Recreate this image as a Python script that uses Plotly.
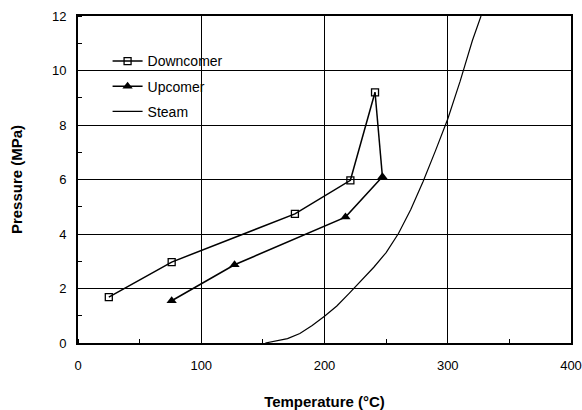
import plotly.graph_objects as go

# Data
down_T = [25, 76, 176, 221, 241]
down_P = [1.68, 2.97, 4.74, 5.97, 9.2]

up_T = [76, 127, 217, 247]
up_P = [1.55, 2.87, 4.62, 6.1]

steam_T = [152, 160, 170, 180, 190, 200, 210, 220, 230, 240, 250, 260, 270, 280, 290, 300, 310, 320, 327]
steam_P = [0.0, 0.06, 0.16, 0.35, 0.64, 0.98, 1.36, 1.82, 2.3, 2.78, 3.32, 4.02, 4.9, 5.93, 7.05, 8.22, 9.6, 11.1, 12.0]

x_ticks = [0, 100, 200, 300, 400]
y_ticks = [0, 2, 4, 6, 8, 10, 12]

FONT = "Arial, Liberation Sans, sans-serif"

fig = go.Figure()
fig.add_trace(go.Scatter(
    x=down_T, y=down_P, mode="lines+markers", name="Downcomer", legendgroup="a",
    line=dict(color="black", width=1.5),
    marker=dict(symbol="square-open", size=7, color="black", line=dict(width=1.3)),
))
fig.add_trace(go.Scatter(
    x=up_T, y=up_P, mode="lines+markers", name="Upcomer", legendgroup="b",
    line=dict(color="black", width=1.5),
    marker=dict(symbol="triangle-up", size=9, color="black"),
))
fig.add_trace(go.Scatter(
    x=[down_T[-1], up_T[-1]], y=[down_P[-1], up_P[-1]], mode="lines", showlegend=False,
    line=dict(color="black", width=1.5), hoverinfo="skip",
))
fig.add_trace(go.Scatter(
    x=steam_T, y=steam_P, mode="lines", name="Steam", legendgroup="c",
    line=dict(color="black", width=1.2),
))

axis_common = dict(
    showline=True, linecolor="black", linewidth=2, mirror=True,
    showgrid=True, gridcolor="black", gridwidth=1,
    ticks="", zeroline=False, automargin=False,
    tickfont=dict(family=FONT, size=13, color="black"),
)

fig.update_xaxes(
    range=[0, 400], tickvals=x_ticks, ticktext=[str(v) for v in x_ticks],
    title=dict(text="<b>Temperature (°C)</b>", font=dict(family=FONT, size=15, color="black"), standoff=26),
    minor=dict(ticks="inside", ticklen=4, tickcolor="black", dtick=50, tick0=0, showgrid=False),
    ticklabelstandoff=9,
    **axis_common,
)
fig.update_yaxes(
    range=[0, 12], tickvals=y_ticks, ticktext=[str(v) for v in y_ticks],
    title=dict(text="<b>Pressure (MPa)</b>", font=dict(family=FONT, size=15, color="black"), standoff=26),
    minor=dict(ticks="inside", ticklen=4, tickcolor="black", dtick=1, tick0=0, showgrid=False),
    ticklabelstandoff=7,
    **axis_common,
)

fig.update_layout(
    width=582, height=410,
    margin=dict(l=78, r=11, t=16, b=67),
    plot_bgcolor="white", paper_bgcolor="white",
    font=dict(family=FONT, color="black"),
    showlegend=True,
    legend=dict(
        x=0.06, y=0.91, xanchor="left", yanchor="top",
        bgcolor="rgba(0,0,0,0)", borderwidth=0,
        font=dict(family=FONT, size=14, color="black"),
        tracegroupgap=4,
    ),
)

fig.write_html("out.html")
